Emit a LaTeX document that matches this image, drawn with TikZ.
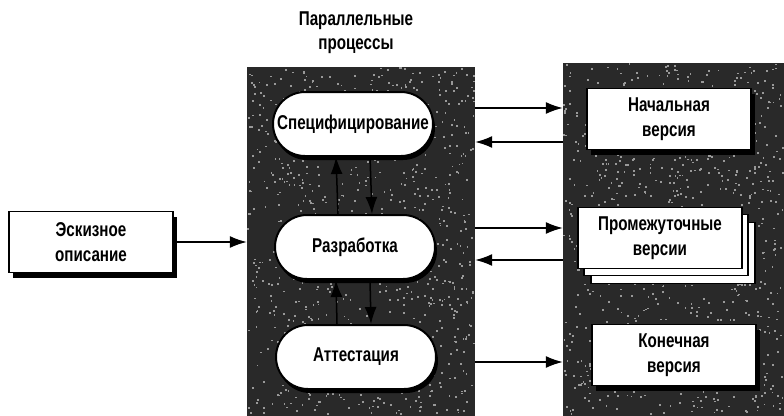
\documentclass[tikz,border=0pt]{standalone}
\usepackage{fontspec}
\setmainfont{Liberation Sans}[FakeStretch=0.76]
\usetikzlibrary{arrows.meta,shapes.misc,shadows}
\definecolor{PanelClr}{rgb}{0.16,0.16,0.16}
\definecolor{SpeckClr}{rgb}{0.6,0.6,0.6}

\begin{document}
\begin{tikzpicture}[x=1pt,y=-1pt,
  panel/.style={fill=PanelClr,draw=none,inner sep=0pt},
  sheet/.style={rectangle,fill=white,draw=black,line width=1.2pt,minimum width=164pt,minimum height=61pt},
  docbox/.style={sheet,align=center,font=\fontsize{20}{25}\selectfont\bfseries,
    drop shadow={shadow xshift=4pt,shadow yshift=-5pt,fill=black,opacity=1}},
  procbox/.style={rounded rectangle,fill=white,draw=black,line width=2pt,minimum width=172pt,minimum height=64pt,
    inner xsep=6pt,font=\fontsize{20}{25}\selectfont\bfseries,
    drop shadow={shadow xshift=2pt,shadow yshift=-4pt,fill=black,opacity=1}},
  flow/.style={line width=1.5pt,-{Latex[length=17pt,width=12pt]}}]
\useasboundingbox (0,0) rectangle (784,415);

% Title of the process column.
\node[font=\fontsize{20}{24}\selectfont\bfseries,align=center] (title) at (356,33) {Параллельные\\процессы};

% The two dark panels.
\node[panel,minimum width=228pt,minimum height=350pt] (procpanel) at (361,242) {};
\node[panel,minimum width=222pt,minimum height=354pt] (verpanel) at (674,240) {};

% Speckles on the panels.
\pgfmathsetseed{17}
\foreach \i in {1,...,900}{
  \pgfmathsetmacro{\sx}{247+226*rnd}
  \pgfmathsetmacro{\sy}{67+346*rnd}
  \fill[SpeckClr] (\sx,\sy) rectangle +(1.8,1.8);
  \pgfmathsetmacro{\tx}{563+219*rnd}
  \pgfmathsetmacro{\ty}{63+350*rnd}
  \fill[SpeckClr] (\tx,\ty) rectangle +(1.8,1.8);
}

% The processes.
\node[procbox] (spec) at (353,124) {Специфицирование};
\node[procbox] (dev) at (355,247) {Разработка};
\node[procbox] (att) at (356,357) {Аттестация};

% The documents.
\node[docbox] (draft) at (91,242) {Эскизное\\описание};
\node[docbox] (first) at (669,119) {Начальная\\версия};
\node[sheet] (inter3) at (673,253) {};
\node[sheet] (inter2) at (666,245) {};
\node[sheet,align=center,font=\fontsize{20}{25}\selectfont\bfseries] (inter) at (660,238) {Промежуточные\\версии};
\node[docbox] (final) at (674,355) {Конечная\\версия};

% Arrows between the processes.
\draw[flow] ([xshift=-17pt]dev.north) -- ([xshift=-17pt]spec.south);
\draw[flow] ([xshift=17pt]spec.south) -- ([xshift=17pt]dev.north);
\draw[flow] ([xshift=-19pt]att.north) -- ([xshift=-19pt]dev.south);
\draw[flow] ([xshift=15pt]dev.south) -- ([xshift=15pt]att.north);

% Arrows between the panels.
\draw[flow] (draft.east) -- (procpanel.west |- draft.east);
\draw[flow] ([yshift=16pt]spec.east -| procpanel.east) -- ([yshift=16pt]spec.east -| verpanel.west);
\draw[flow] ([yshift=-18pt]spec.east -| verpanel.west) -- ([yshift=-18pt]spec.east -| procpanel.east);
\draw[flow] ([yshift=19pt]dev.east -| procpanel.east) -- ([yshift=19pt]dev.east -| verpanel.west);
\draw[flow] ([yshift=-13pt]dev.east -| verpanel.west) -- ([yshift=-13pt]dev.east -| procpanel.east);
\draw[flow] ([yshift=-5pt]att.east -| procpanel.east) -- ([yshift=-5pt]att.east -| verpanel.west);
\end{tikzpicture}
\end{document}
